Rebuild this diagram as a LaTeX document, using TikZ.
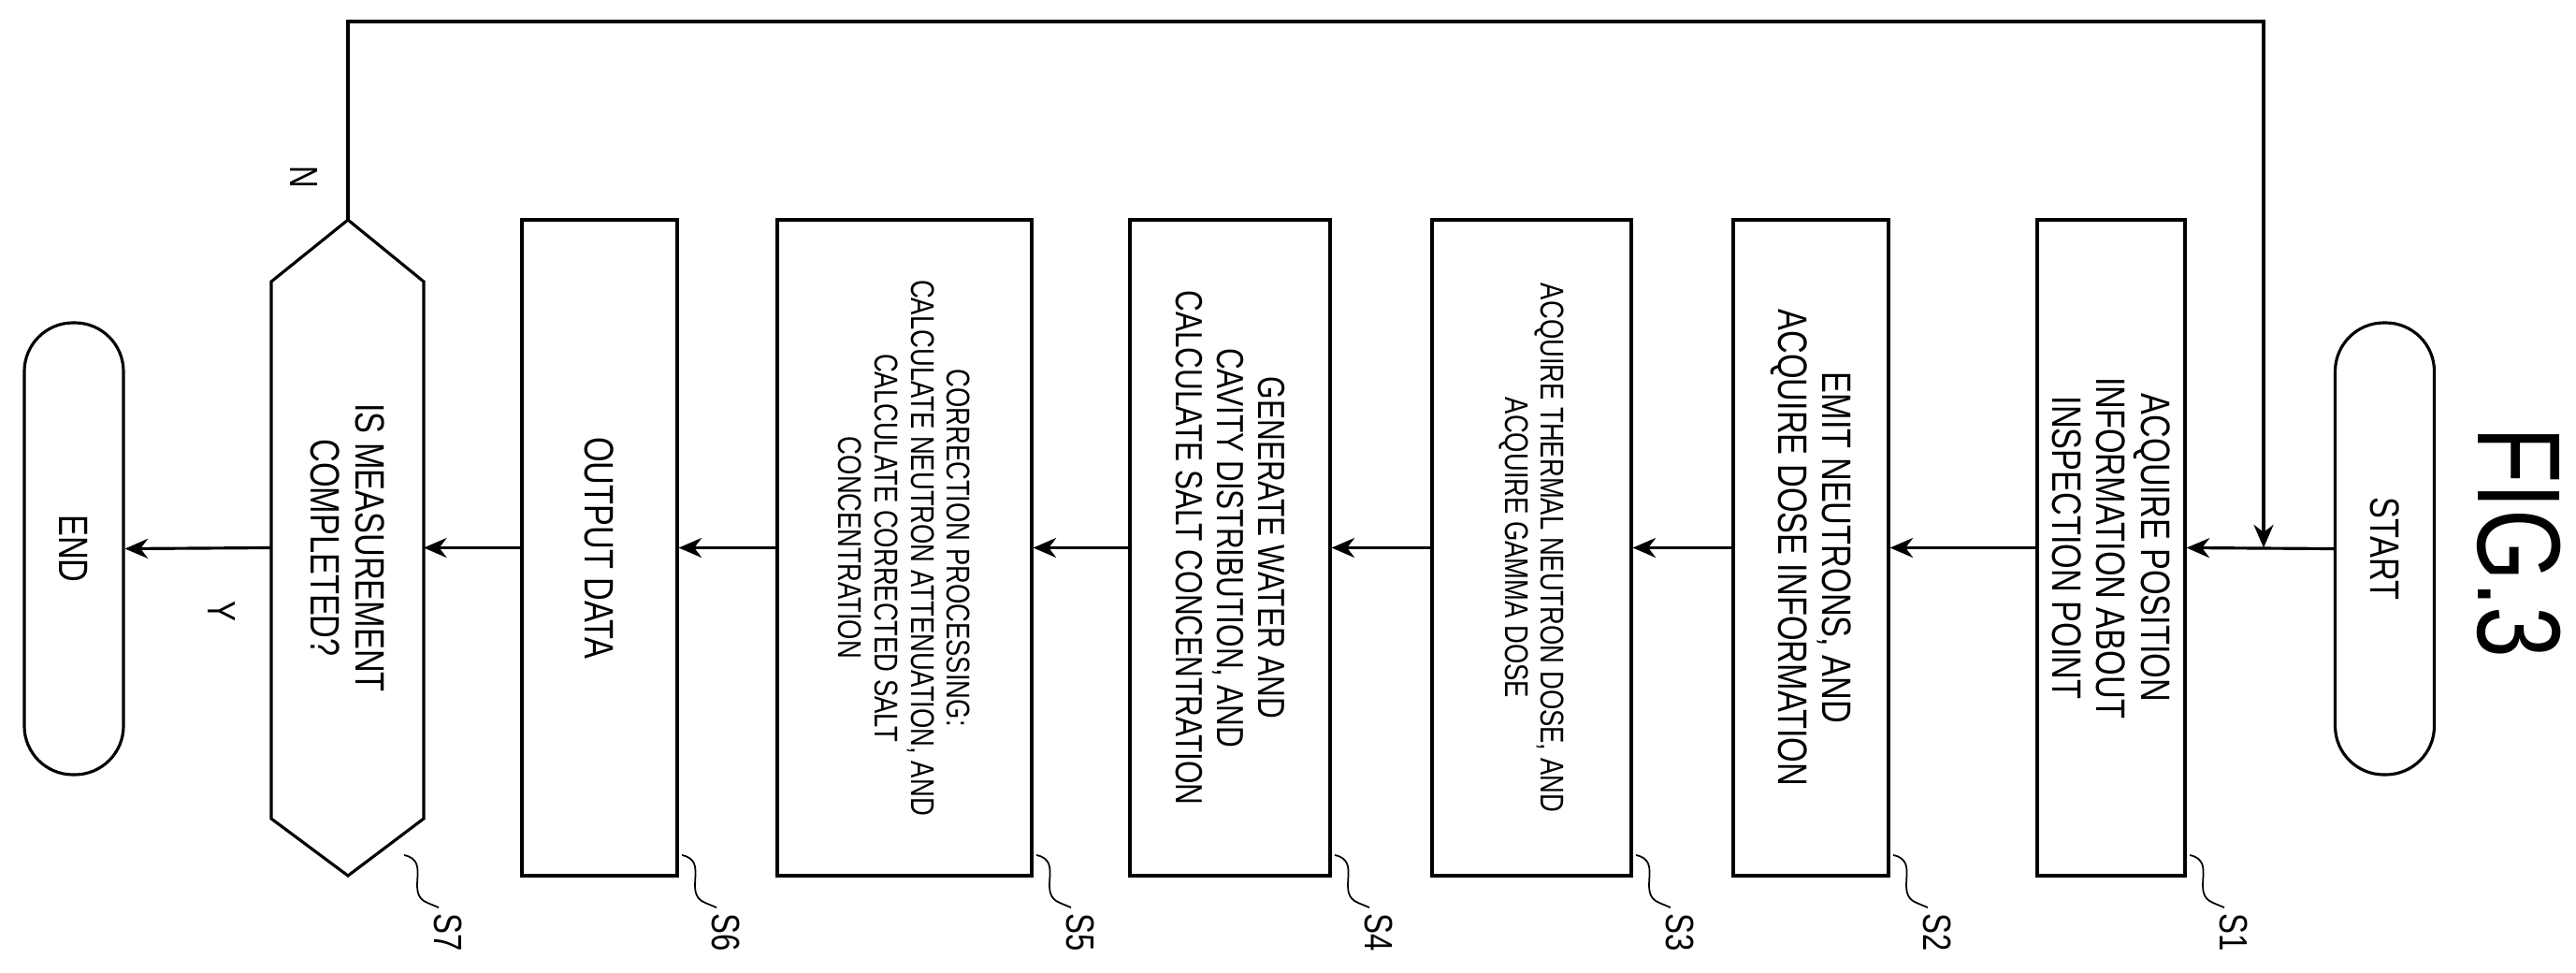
\documentclass[tikz,border=0pt]{standalone}
\usepackage{fontspec}
\setmainfont[FakeStretch=0.78]{Liberation Sans}
\usetikzlibrary{arrows.meta}
\begin{document}
\begin{tikzpicture}[
  line width=0.9pt,
  box/.style={draw,rotate=-90,minimum width=7.01cm,align=center,inner sep=1pt,font=\fontsize{12.5}{13.5}\selectfont},
  small/.style={font=\fontsize{10}{11}\selectfont},
  mid/.style={font=\fontsize{11.5}{12.5}\selectfont},
  pill/.style={draw,rotate=-90,minimum width=4.83cm,minimum height=1.06cm,rounded corners=5.2mm,font=\fontsize{12.5}{13.5}\selectfont},
  arr/.style={-{Stealth[length=7pt,width=6pt]}},
  lbl/.style={rotate=-90,font=\fontsize{12}{13}\selectfont},
  lead/.style={line width=0.5pt}
]
\useasboundingbox (0,0) rectangle (27.54,-10.39);
\node[pill] (start) at (25.495,-5.865) {START};
\node[box,minimum height=1.58cm] (s1) at (22.57,-5.855) {ACQUIRE POSITION\\INFORMATION ABOUT\\INSPECTION POINT};
\node[box,minimum height=1.66cm] (s2) at (19.36,-5.855) {EMIT NEUTRONS, AND\\ACQUIRE DOSE INFORMATION};
\node[box,small,minimum height=2.13cm] (s3) at (16.375,-5.855) {ACQUIRE THERMAL NEUTRON DOSE, AND\\ACQUIRE GAMMA DOSE};
\node[box,mid,minimum height=2.14cm] (s4) at (13.15,-5.855) {GENERATE WATER AND\\CAVITY DISTRIBUTION, AND\\CALCULATE SALT CONCENTRATION};
\node[box,small,minimum height=2.72cm] (s5) at (9.67,-5.855) {CORRECTION PROCESSING:\\CALCULATE NEUTRON ATTENUATION, AND\\CALCULATE CORRECTED SALT\\CONCENTRATION};
\node[box,minimum height=1.66cm] (s6) at (6.41,-5.855) {OUTPUT DATA};
\node[rotate=-90,align=center,font=\fontsize{12.5}{13.5}\selectfont] (s7) at (3.715,-5.855) {IS MEASUREMENT\\COMPLETED?};
\coordinate (dtop) at (3.72,-2.35);
\coordinate (dbot) at (3.72,-9.36);
\coordinate (dR) at (4.53,-5.855);
\coordinate (dL) at (2.90,-5.855);
\draw (dtop) -- (4.53,-3.01) -- (dR) -- (4.53,-8.75) -- (dbot) -- (2.90,-8.75) -- (dL) -- (2.90,-3.01) -- cycle;
\node[pill] (end) at (0.79,-5.865) {END};
\node[rotate=-90,font=\fontsize{36}{38}\selectfont] (fig) at (26.93,-5.8) {FIG.3};
% flow
\coordinate (j) at (24.2,-5.855);
\draw[arr] (start.south) -- (s1.north);
\draw[arr] (s1.south) -- (s2.north);
\draw[arr] (s2.south) -- (s3.north);
\draw[arr] (s3.south) -- (s4.north);
\draw[arr] (s4.south) -- (s5.north);
\draw[arr] (s5.south) -- (s6.north);
\draw[arr] (s6.south) -- (dR);
\draw[arr] (dL) -- (end.north);
\draw[arr] (dtop) -- (3.72,-0.23) -- (24.2,-0.23) -- (j);
\node[lbl] (n) at (3.25,-1.89) {N};
\node[lbl] (y) at (2.37,-6.53) {Y};
% step labels
\foreach \b/\x/\t in {s1/23.36/S1,s2/20.19/S2,s3/17.44/S3,s4/14.22/S4,s5/11.03/S5,s6/7.24/S6,s7/4.27/S7}{
  \coordinate (a\t) at (\x+0.05,-9.14);
  \node[lbl] (l\t) at (\x+0.52,-9.97) {\t};
  \draw[lead] (a\t) .. controls (\x+0.35,-9.2) and (\x+0.05,-9.55) .. (\x+0.3,-9.65) -- (\x+0.42,-9.70);
}
\end{tikzpicture}
\end{document}
